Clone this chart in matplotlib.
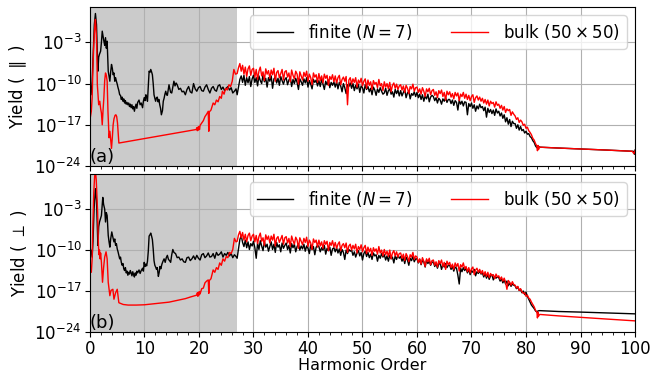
import numpy as np
import matplotlib
matplotlib.use("Agg")
import matplotlib.pyplot as plt
from matplotlib.ticker import MultipleLocator, NullLocator

# ---------------- data (log10 of yield) ----------------
# early region (harmonic order < 27)
x_early_fin_par = [0, 0.2, 0.4, 0.6, 0.8, 1.0, 1.2, 1.45, 1.6, 1.75, 1.95, 2.1, 2.25, 2.4, 2.55, 2.7, 2.85, 3.0,
                   3.15, 3.25, 3.35, 3.5, 3.65, 3.8, 3.95, 4.1, 4.25, 4.4, 4.55, 4.7, 4.85, 5.0, 5.15, 5.3, 5.45,
                   5.6, 5.75, 5.9, 6.05, 6.2, 6.35, 6.5, 6.65, 6.8, 6.95, 7.1, 7.25, 7.4, 7.55, 7.7, 7.85, 8.0,
                   8.15, 8.3, 8.45, 8.6, 8.75, 9.0, 9.2, 9.4, 9.65, 9.8, 9.95, 10.1, 10.25, 10.4, 10.55, 10.7,
                   10.85, 11.0, 11.15, 11.3, 11.45, 11.6, 11.75, 11.9, 12.05, 12.2, 12.35, 12.5, 12.65, 12.8,
                   12.95, 13.1, 13.3, 13.45, 13.6, 13.75, 13.9, 14.05, 14.2, 14.35, 14.5, 14.65, 14.8, 15.0,
                   15.2, 15.4, 15.6, 15.8, 16.0, 16.3, 16.6, 16.9, 17.2, 17.5, 17.8, 18.1, 18.4, 18.7, 19.0,
                   19.3, 19.6, 19.9, 20.2, 20.5, 20.8, 21.1, 21.4, 21.7, 22.0, 22.3, 22.6, 22.9, 23.2, 23.5,
                   23.8, 24.1, 24.4, 24.7, 25.0, 25.3, 25.6, 25.9, 26.2, 26.5, 26.8]
y_early_fin_par = [-11.0, -11.9, -9.6, -5.0, 0.0, 1.9, 0.0, -7.9, -5.5, -5.0, -4.5, -3.0, -1.1, -2.0, -2.8, -3.5,
                   -2.2, -4.0, -2.8, -5.4, -7.9, -8.8, -9.6, -8.0, -6.75, -7.4, -8.5, -8.2, -9.6, -9.0, -9.6,
                   -10.1, -10.7, -11.2, -11.9, -12.0, -12.7, -12.3, -13.0, -12.6, -13.3, -12.9, -13.5, -13.2,
                   -13.6, -13.3, -13.9, -13.5, -14.1, -13.6, -14.3, -13.9, -14.7, -14.0, -13.5, -14.2, -13.2,
                   -12.8, -13.6, -13.3, -14.1, -13.0, -12.4, -12.9, -11.9, -12.3, -13.0, -10.5, -7.9, -8.1,
                   -7.6, -8.0, -8.5, -10.0, -11.9, -12.5, -13.0, -12.4, -12.3, -13.1, -12.7, -13.6, -14.2,
                   -15.3, -14.6, -13.0, -12.5, -11.8, -11.3, -11.9, -12.0, -11.1, -10.2, -10.9, -11.5, -11.6,
                   -10.6, -9.6, -10.4, -9.9, -10.2, -11.0, -10.8, -11.4, -11.3, -11.9, -11.0, -10.5, -11.4,
                   -11.6, -10.0, -10.9, -11.3, -10.7, -10.5, -11.2, -11.3, -10.6, -10.2, -11.0, -11.6, -10.8,
                   -10.5, -11.1, -11.3, -10.4, -10.2, -11.0, -10.6, -11.2, -10.8, -10.5, -11.1, -10.7, -11.6,
                   -11.3, -10.9]

x_early_fin_perp = [0, 0.2, 0.4, 0.55, 0.75, 1.0, 1.2, 1.45, 1.6, 1.75, 1.95, 2.1, 2.35, 2.5, 2.7, 2.85, 3.0,
                    3.15, 3.35, 3.5, 3.65, 3.8, 4.0, 4.2, 4.4, 4.55, 4.7, 4.85, 5.0, 5.15, 5.3, 5.45, 5.6, 5.75,
                    5.9, 6.05, 6.2, 6.35, 6.5, 6.65, 6.8, 6.95, 7.1, 7.25, 7.4, 7.55, 7.7, 7.85, 8.0, 8.15, 8.3,
                    8.45, 8.6, 8.75, 9.0, 9.2, 9.4, 9.65, 9.8, 9.95, 10.1, 10.25, 10.4, 10.55, 10.7, 10.85,
                    11.0, 11.15, 11.3, 11.45, 11.6, 11.75, 11.9, 12.05, 12.2, 12.35, 12.55, 12.7, 12.85, 13.0,
                    13.2, 13.4, 13.6, 13.8, 14.0, 14.2, 14.4, 14.6, 14.8, 15.0, 15.2, 15.4, 15.7, 16.0, 16.3,
                    16.6, 16.9, 17.2, 17.5, 17.8, 18.1, 18.4, 18.7, 19.0, 19.3, 19.6, 19.9, 20.2, 20.5, 20.8,
                    21.1, 21.4, 21.7, 22.0, 22.3, 22.6, 22.9, 23.2, 23.5, 23.8, 24.1, 24.4, 24.7, 25.0, 25.3,
                    25.6, 25.9, 26.2, 26.5, 26.8]
y_early_fin_perp = [-10.9, -10.0, -11.2, -8.6, -3.0, 0.5, -1.5, -9.2, -6.0, -5.2, -4.6, -4.1, -1.0, -2.2, -3.0,
                    -5.2, -3.6, -4.1, -7.5, -8.6, -9.5, -8.1, -6.9, -7.8, -8.6, -8.1, -9.2, -8.9, -9.8, -10.3,
                    -10.9, -11.5, -11.2, -12.1, -12.6, -12.3, -13.2, -13.5, -13.0, -13.9, -13.6, -14.3, -13.8,
                    -14.1, -13.5, -13.9, -14.4, -13.7, -14.2, -14.6, -13.9, -14.3, -13.6, -13.9, -13.4, -14.0,
                    -13.5, -13.1, -13.6, -12.1, -12.8, -12.4, -12.7, -11.9, -10.2, -7.6, -7.4, -7.1, -7.6,
                    -8.2, -9.8, -11.8, -12.6, -12.9, -13.3, -13.0, -14.5, -13.8, -12.8, -13.2, -12.4, -11.9,
                    -11.5, -12.1, -11.3, -10.9, -11.6, -11.8, -12.1, -10.8, -9.9, -10.4, -10.6, -11.3, -11.2,
                    -11.7, -11.5, -12.0, -12.1, -11.3, -11.2, -11.8, -11.5, -11.0, -11.6, -10.9, -11.4, -11.7,
                    -10.8, -10.6, -11.3, -11.0, -10.5, -11.2, -11.1, -10.6, -11.4, -10.4, -10.9, -10.7, -10.3,
                    -11.2, -10.6, -10.9, -10.4, -11.0, -10.6, -11.3, -10.8, -11.1]

x_early_bulk_par = [0, 0.25, 0.4, 0.55, 0.7, 0.9, 1.0, 1.15, 1.25, 1.35, 1.6, 1.8, 1.95, 2.1, 2.25, 2.4, 2.55,
                    2.7, 2.85, 3.0, 3.15, 3.3, 3.5, 3.65, 3.8, 3.95, 4.1, 4.25, 4.4, 4.6, 4.75, 4.9, 5.05, 5.3,
                    19.5, 19.6, 19.7, 19.8, 19.9, 20.0, 20.1, 20.2, 20.5, 20.8, 21.1, 21.4, 21.7, 21.8, 21.9,
                    22.2, 22.6, 22.9, 23.2, 23.5, 23.8, 24.1, 24.3, 24.6, 24.9, 25.2, 25.5, 25.8, 26.1, 26.4,
                    26.7]
y_early_bulk_par = [-16.1, -14.7, -12.4, -7.0, -3.3, 0.0, 0.9, -1.5, -4.0, -10.2, -13.6, -13.0, -14.2, -15.0,
                    -17.0, -14.5, -12.4, -9.5, -8.2, -8.6, -9.6, -14.7, -19.2, -18.1, -19.5, -21.0, -19.2,
                    -17.0, -16.0, -15.4, -15.3, -15.6, -16.7, -20.1, -17.8, -17.5, -18.0, -17.4, -17.9, -17.3,
                    -17.8, -17.1, -16.7, -16.3, -15.6, -15.2, -14.7, -18.1, -14.8, -14.5, -13.3, -13.6, -12.8,
                    -13.1, -12.2, -12.5, -11.3, -11.8, -10.8, -11.1, -10.2, -10.5, -9.6, -7.6, -8.4]

x_early_bulk_perp = [0, 0.25, 0.4, 0.55, 0.7, 0.85, 1.0, 1.15, 1.3, 1.4, 1.55, 1.65, 1.75, 1.85, 1.95, 2.1,
                     2.3, 2.5, 2.7, 2.95, 3.15, 3.35, 3.65, 3.85, 4.2, 4.4, 4.7, 5.0, 5.3, 6.1, 7.0, 8.5, 10.0,
                     11.5, 13.0, 14.5, 16.0, 17.5, 18.5, 19.6, 19.7, 19.8, 19.9, 20.0, 20.1, 20.2, 20.5, 20.8,
                     21.1, 21.4, 21.7, 21.8, 21.9, 22.2, 22.6, 22.9, 23.2, 23.5, 23.8, 24.1, 24.4, 24.7, 25.0,
                     25.3, 25.6, 25.9, 26.2, 26.5, 26.8]
y_early_bulk_perp = [-12.9, -13.8, -11.5, -5.0, -0.1, 2.5, 3.5, 2.0, -1.5, -3.5, -9.2, -10.8, -10.0, -11.5,
                     -10.5, -12.1, -15.5, -13.0, -11.2, -10.3, -11.5, -15.5, -17.8, -16.9, -16.7, -18.4, -17.3,
                     -16.7, -19.0, -19.3, -19.4, -19.4, -19.35, -19.2, -19.05, -18.9, -18.6, -18.3, -18.0,
                     -17.7, -17.3, -17.9, -17.2, -17.7, -17.1, -17.5, -16.6, -16.5, -15.6, -15.3, -15.1, -17.4,
                     -15.2, -14.9, -13.4, -13.8, -13.0, -13.3, -12.2, -12.6, -11.5, -11.9, -11.1, -11.3, -10.4,
                     -10.6, -9.9, -8.0, -8.6]

# plateau region: harmonic orders 27.00, 27.25, ..., 81.75
x_mid_start, x_mid_step = 27.0, 0.25

y_mid_bulk_par = [
    -8.3, -7.3, -6.6, -7.9, -6.9, -8.4, -7.2, -8.8, -7.5, -7.0, -8.6, -7.6,
    -7.4, -8.9, -7.6, -9.3, -7.9, -7.2, -8.7, -8.0, -9.5, -7.5, -8.4, -7.8,
    -9.1, -7.7, -8.5, -7.4, -9.6, -8.1, -7.8, -9.0, -8.3, -7.6, -9.4, -8.0,
    -7.8, -8.9, -8.2, -9.7, -7.7, -8.6, -9.2, -7.9, -8.4, -10.1, -8.0, -8.7,
    -9.4, -8.1, -8.8, -7.9, -9.6, -8.4, -9.0, -10.2, -8.2, -8.9, -8.5, -9.8,
    -8.3, -9.5, -8.7, -9.9, -8.4, -9.1, -8.6, -10.3, -8.8, -9.3, -8.5, -9.7,
    -8.7, -9.9, -9.0, -8.6, -10.2, -9.3, -8.9, -9.6, -8.8, -13.6, -9.4, -9.0,
    -10.1, -9.2, -9.8, -9.0, -10.6, -9.4, -9.9, -9.1, -10.4, -9.6, -9.2, -10.8,
    -9.4, -10.3, -9.7, -11.0, -9.5, -10.1, -9.8, -10.7, -9.3, -10.4, -10.0, -11.2,
    -9.7, -10.6, -10.0, -10.9, -9.8, -11.4, -10.3, -9.9, -10.8, -10.1, -11.0, -10.4,
    -10.2, -11.1, -10.4, -11.5, -10.3, -10.8, -11.7, -10.5, -10.9, -10.1, -11.3, -10.7,
    -10.6, -11.5, -10.9, -11.8, -10.7, -11.3, -12.2, -10.9, -11.4, -10.8, -11.9, -11.2,
    -11.0, -12.0, -11.4, -12.4, -11.2, -11.7, -11.1, -12.2, -11.5, -12.8, -11.3, -11.9,
    -11.4, -12.3, -11.7, -12.6, -11.5, -12.1, -11.6, -12.9, -11.8, -12.2, -11.5, -12.5,
    -11.8, -12.7, -12.0, -12.9, -12.2, -11.9, -13.2, -12.4, -12.1, -12.8, -12.3, -13.0,
    -12.5, -13.3, -12.7, -13.5, -12.8, -13.8, -13.0, -13.4, -13.2, -14.0, -13.1, -13.7,
    -13.5, -14.2, -13.7, -14.5, -13.9, -14.9, -14.3, -14.6, -14.4, -15.4, -14.8, -15.2,
    -15.5, -16.1, -15.8, -16.6, -16.2, -16.5, -17.1, -16.9, -17.6, -17.4, -18.0, -18.3,
    -18.7, -19.3, -19.6, -20.2]

y_mid_fin_par = [
    -11.9, -10.6, -9.3, -8.7, -9.8, -8.6, -10.3, -9.0, -9.9, -8.8, -10.5, -9.2,
    -8.6, -9.8, -9.0, -10.4, -8.7, -9.5, -10.0, -8.5, -9.7, -9.1, -10.6, -9.0,
    -9.6, -8.7, -10.8, -9.2, -8.9, -9.9, -9.1, -10.3, -8.8, -9.5, -10.1, -9.3,
    -9.0, -10.2, -9.4, -8.9, -10.5, -9.3, -10.0, -9.1, -9.8, -11.0, -9.2, -9.7,
    -10.3, -9.2, -9.9, -9.0, -10.6, -9.5, -10.1, -10.9, -9.3, -9.8, -9.4, -10.4,
    -9.5, -10.5, -9.3, -10.1, -11.0, -9.6, -10.2, -9.4, -10.7, -9.8, -10.3, -9.7,
    -10.6, -9.7, -10.9, -9.8, -10.4, -11.4, -10.0, -10.7, -11.7, -10.2, -10.5, -9.9,
    -10.8, -10.0, -11.2, -10.3, -10.9, -10.1, -11.5, -10.4, -10.7, -11.6, -10.2, -11.0,
    -10.5, -11.4, -10.8, -11.9, -10.6, -11.1, -12.0, -10.9, -11.5, -10.7, -11.3, -11.8,
    -11.6, -10.8, -12.0, -11.2, -10.9, -11.8, -11.4, -12.3, -11.0, -11.7, -11.1, -12.1,
    -11.2, -12.1, -11.5, -11.0, -12.4, -11.6, -11.3, -12.6, -11.7, -12.0, -11.4, -12.2,
    -11.5, -12.4, -11.8, -12.7, -11.9, -13.0, -12.1, -12.6, -11.8, -13.1, -12.3, -12.0,
    -12.2, -12.9, -12.4, -13.3, -12.5, -12.8, -13.5, -12.6, -13.0, -12.4, -13.2, -12.7,
    -12.7, -13.4, -12.8, -13.7, -12.9, -13.2, -14.5, -12.8, -13.5, -13.0, -13.8, -13.1,
    -13.2, -15.3, -13.4, -13.9, -13.3, -14.2, -13.6, -14.7, -13.8, -14.3, -13.5, -14.1,
    -13.9, -14.6, -14.0, -15.7, -14.2, -14.9, -14.4, -15.1, -14.5, -15.4, -14.3, -15.0,
    -14.7, -15.5, -15.0, -15.9, -15.3, -16.5, -15.8, -16.9, -16.1, -17.3, -16.4, -16.8,
    -16.8, -17.6, -17.0, -17.9, -17.3, -18.0, -17.8, -18.4, -18.1, -18.6, -18.5, -19.0,
    -19.2, -19.7, -20.0, -20.6]

y_mid_bulk_perp = [
    -8.5, -7.4, -6.8, -7.9, -7.0, -8.3, -7.3, -8.6, -7.5, -7.1, -8.4, -7.6,
    -7.3, -8.6, -7.5, -8.9, -7.7, -7.1, -8.5, -7.9, -9.2, -7.4, -8.2, -7.6,
    -8.8, -7.6, -8.3, -7.3, -9.3, -8.0, -7.7, -8.7, -8.1, -7.5, -9.0, -7.9,
    -7.7, -8.8, -8.0, -9.4, -7.6, -8.4, -9.0, -7.8, -8.3, -9.7, -7.9, -8.5,
    -9.1, -8.0, -8.7, -7.8, -9.4, -8.3, -8.8, -9.9, -8.1, -8.7, -8.3, -9.5,
    -8.3, -9.3, -8.6, -9.7, -8.4, -9.0, -8.5, -10.1, -8.7, -9.2, -8.4, -9.5,
    -8.7, -9.7, -9.0, -8.6, -10.1, -9.2, -8.9, -9.6, -8.8, -10.4, -9.3, -9.0,
    -10.0, -9.2, -9.8, -9.0, -10.5, -9.4, -9.9, -9.1, -10.3, -9.6, -9.2, -10.6,
    -9.5, -10.3, -9.7, -10.9, -9.6, -10.2, -9.8, -10.7, -9.4, -10.5, -10.0, -11.0,
    -9.9, -10.8, -10.2, -11.1, -10.0, -11.5, -10.5, -10.1, -11.0, -10.3, -11.2, -10.6,
    -10.5, -11.4, -10.7, -11.8, -10.6, -11.1, -12.0, -10.8, -11.2, -10.4, -11.6, -11.0,
    -11.2, -12.1, -11.5, -12.4, -11.3, -11.9, -12.8, -11.5, -12.0, -11.4, -12.5, -11.8,
    -11.7, -12.6, -12.0, -12.9, -11.8, -12.3, -11.7, -12.8, -12.1, -13.3, -11.9, -12.5,
    -12.1, -13.0, -12.4, -13.3, -12.2, -12.8, -12.3, -13.6, -12.5, -12.9, -12.2, -13.2,
    -12.8, -13.7, -13.0, -13.9, -13.2, -12.9, -14.2, -13.4, -13.1, -13.8, -13.3, -14.0,
    -13.5, -14.3, -13.7, -14.5, -13.8, -14.7, -14.0, -14.4, -14.2, -14.9, -14.1, -14.6,
    -14.4, -15.0, -14.6, -15.3, -14.8, -15.5, -16.7, -15.2, -15.5, -16.0, -15.4, -15.9,
    -16.0, -16.5, -16.2, -16.9, -16.6, -17.1, -17.4, -17.3, -17.9, -17.7, -18.2, -18.4,
    -18.9, -19.3, -19.7, -20.3]

y_mid_fin_perp = [
    -11.4, -9.8, -8.2, -7.5, -8.7, -9.4, -8.3, -9.6, -8.6, -9.9, -8.9, -9.3,
    -8.5, -9.6, -11.4, -8.8, -9.9, -8.4, -9.3, -10.1, -8.6, -9.5, -9.0, -10.2,
    -9.4, -8.6, -9.9, -9.0, -10.4, -8.7, -9.5, -9.1, -10.3, -8.8, -9.7, -9.2,
    -8.8, -9.9, -9.2, -10.5, -8.9, -9.6, -9.0, -10.3, -9.4, -8.9, -10.0, -9.3,
    -9.8, -9.0, -10.2, -9.3, -9.7, -10.6, -9.1, -9.9, -9.4, -10.8, -9.5, -9.2,
    -9.4, -10.3, -9.6, -10.0, -9.2, -10.7, -9.7, -10.1, -9.5, -10.9, -9.8, -9.6,
    -10.3, -9.6, -10.5, -9.8, -10.9, -9.9, -10.4, -11.6, -10.0, -10.6, -9.9, -10.2,
    -10.0, -10.9, -10.3, -11.2, -10.5, -10.1, -11.0, -10.4, -11.7, -10.6, -10.2, -11.1,
    -10.4, -11.3, -10.7, -11.6, -10.5, -11.0, -10.8, -11.9, -10.9, -11.4, -10.6, -11.2,
    -10.8, -11.7, -11.0, -11.9, -10.9, -11.5, -11.2, -12.2, -11.0, -11.6, -10.9, -11.4,
    -11.1, -11.9, -11.3, -12.3, -11.2, -11.7, -12.6, -11.4, -11.8, -11.1, -12.0, -11.5,
    -11.5, -12.2, -11.6, -12.5, -11.8, -12.0, -12.9, -11.7, -12.3, -11.9, -12.6, -12.1,
    -12.0, -12.8, -12.3, -13.1, -12.4, -12.2, -13.3, -12.5, -12.9, -12.3, -13.0, -12.6,
    -12.6, -13.3, -12.8, -13.6, -12.9, -13.1, -14.3, -15.8, -13.1, -13.7, -13.0, -13.5,
    -13.1, -13.9, -13.3, -14.2, -13.5, -13.8, -13.3, -14.4, -13.7, -14.0, -13.6, -14.1,
    -13.9, -14.6, -14.0, -14.8, -14.2, -15.0, -14.4, -14.2, -15.1, -14.5, -14.8, -14.6,
    -14.7, -15.3, -14.9, -15.6, -15.1, -15.8, -15.3, -16.1, -15.6, -16.2, -15.8, -16.0,
    -16.1, -16.6, -16.3, -16.9, -16.7, -17.3, -17.0, -17.6, -17.2, -17.9, -18.4, -18.9,
    -19.4, -19.7, -20.0, -20.4]

# high-order tail (beyond cutoff)
x_tail_bulk_par = [82.0, 82.1, 82.2, 82.3, 82.5, 86, 90, 95, 99.5, 99.8, 100]
y_tail_bulk_par = [-20.6, -21.4, -20.5, -21.2, -20.8, -20.95, -21.1, -21.3, -21.5, -21.9, -21.4]
x_tail_fin_par = [82.0, 82.2, 82.5, 86, 90, 95, 99.7, 99.9, 100]
y_tail_fin_par = [-20.9, -20.6, -20.8, -20.95, -21.1, -21.3, -21.5, -22.0, -21.3]
x_tail_bulk_perp = [82.0, 82.1, 82.2, 82.3, 82.5, 86, 90, 95, 100]
y_tail_bulk_perp = [-20.6, -21.6, -20.6, -21.3, -21.0, -21.25, -21.5, -21.8, -22.1]
x_tail_fin_perp = [82.0, 82.2, 82.5, 86, 90, 95, 100]
y_tail_fin_perp = [-20.6, -20.4, -20.35, -20.5, -20.6, -20.75, -20.9]

labels = [r'finite ($N=7$)', r'bulk ($50\times50$)']
panel_tags = ['(a)', '(b)']
ylabels = [r'Yield ( $\parallel$ )', r'Yield ( $\perp$ )']
shade_range = (0, 27)


def build(xe, ye, ym, xt, yt):
    xm = x_mid_start + x_mid_step * np.arange(len(ym))
    x = np.concatenate([xe, xm, xt])
    y = np.concatenate([ye, ym, yt])
    return x, 10.0 ** y


series = [
    (build(x_early_fin_par, y_early_fin_par, y_mid_fin_par, x_tail_fin_par, y_tail_fin_par),
     build(x_early_bulk_par, y_early_bulk_par, y_mid_bulk_par, x_tail_bulk_par, y_tail_bulk_par)),
    (build(x_early_fin_perp, y_early_fin_perp, y_mid_fin_perp, x_tail_fin_perp, y_tail_fin_perp),
     build(x_early_bulk_perp, y_early_bulk_perp, y_mid_bulk_perp, x_tail_bulk_perp, y_tail_bulk_perp)),
]

# ---------------- plot ----------------
plt.rcParams['font.size'] = 12
fig = plt.figure(figsize=(6.65, 3.75), dpi=100)
axes = [fig.add_axes([0.1353, 0.5573, 0.8196, 0.424]),
        fig.add_axes([0.1353, 0.1147, 0.8196, 0.4213])]

for i, ax in enumerate(axes):
    (xf, yf), (xb, yb) = series[i]
    ax.axvspan(*shade_range, color='#cbcbcb', lw=0, zorder=0)
    ax.plot(xf, yf, color='black', lw=1.0, label=labels[0])
    ax.plot(xb, yb, color='red', lw=1.0, label=labels[1])
    ax.set_yscale('log')
    ax.set_xlim(0, 100)
    ax.set_ylim(1e-24, 1e3)
    ax.set_yticks([1e-24, 1e-17, 1e-10, 1e-3])
    ax.yaxis.set_minor_locator(NullLocator())
    ax.xaxis.set_major_locator(MultipleLocator(10))
    ax.xaxis.set_minor_locator(MultipleLocator(2))
    ax.grid(True, which='major', color='#b0b0b0', lw=0.8)
    ax.set_ylabel(ylabels[i])
    ax.tick_params(labelsize=12, pad=2.5)
    ax.text(0.0, 0.0, panel_tags[i], transform=ax.transAxes, fontsize=13,
            ha='left', va='bottom')
    ax.legend(loc='upper right', ncol=2, fontsize=12, handlelength=2.2,
              handletextpad=0.9, columnspacing=2.3)

axes[0].tick_params(labelbottom=False)
axes[1].set_xlabel('Harmonic Order', labelpad=0, fontsize=11.5)

fig.savefig('out.png', dpi=100)
